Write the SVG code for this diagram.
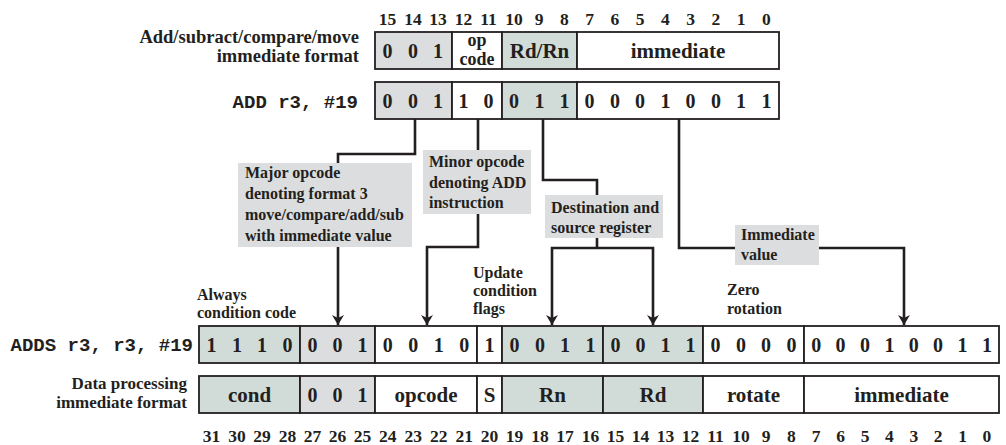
<svg xmlns="http://www.w3.org/2000/svg" width="1006" height="445" viewBox="0 0 1006 445">
<defs>
<style>
text{font-family:"Liberation Serif","Times New Roman",serif;font-weight:bold;fill:#231f20}
.lbl{font-size:18.5px;text-anchor:end}
.lbl2{font-size:17px;text-anchor:end}
.mono{font-family:"Liberation Mono","Courier New",monospace;font-size:19px;text-anchor:end}
.num{font-size:17.5px;text-anchor:middle}
.d{font-size:20px;text-anchor:middle}
.f{font-size:21px;text-anchor:middle}
.f2{font-size:18px;text-anchor:middle}
.note{font-size:16px}
.g{fill:#dcdddf;stroke:#231f20;stroke-width:1.8}
.t{fill:#d1dcd9;stroke:#231f20;stroke-width:1.8}
.w{fill:#ffffff;stroke:#231f20;stroke-width:1.8}
.cb{fill:#dcdddf;stroke:none}
.c{fill:none;stroke:#231f20;stroke-width:2.6}
</style>
<marker id="ah" viewBox="0 0 10 12" refX="10" refY="6" markerWidth="10" markerHeight="12" markerUnits="userSpaceOnUse" orient="auto">
<path d="M0,0 L10,6 L0,12 L3,6 Z" fill="#231f20"/>
</marker>
</defs>

<!-- top bit numbers -->
<g id="top-bits">
<text class="num" x="387.6" y="25">15</text>
<text class="num" x="412.9" y="25">14</text>
<text class="num" x="438.1" y="25">13</text>
<text class="num" x="463.4" y="25">12</text>
<text class="num" x="488.6" y="25">11</text>
<text class="num" x="513.9" y="25">10</text>
<text class="num" x="539.1" y="25">9</text>
<text class="num" x="564.4" y="25">8</text>
<text class="num" x="589.6" y="25">7</text>
<text class="num" x="614.9" y="25">6</text>
<text class="num" x="640.1" y="25">5</text>
<text class="num" x="665.4" y="25">4</text>
<text class="num" x="690.6" y="25">3</text>
<text class="num" x="715.9" y="25">2</text>
<text class="num" x="741.1" y="25">1</text>
<text class="num" x="766.4" y="25">0</text>
</g>

<!-- row 1: thumb format -->
<g id="thumb-format">
<text class="lbl" x="359" y="43">Add/subract/compare/move</text>
<text class="lbl" x="359" y="62">immediate format</text>
<rect class="g" x="375" y="32" width="77" height="37"/>
<rect class="w" x="452" y="32" width="50" height="37"/>
<rect class="t" x="502" y="32" width="75" height="37"/>
<rect class="w" x="577" y="32" width="202" height="37"/>
<text class="d" x="387.6" y="57.5">0</text>
<text class="d" x="412.9" y="57.5">0</text>
<text class="d" x="438.1" y="57.5">1</text>
<text class="f2" x="477" y="45.5">op</text>
<text class="f2" x="477" y="64.5">code</text>
<text class="f" x="539.5" y="58">Rd/Rn</text>
<text class="f" x="678" y="58">immediate</text>
</g>

<!-- row 2: ADD r3, #19 -->
<g id="thumb-add">
<text class="mono" x="358" y="108">ADD r3, #19</text>
<rect class="g" x="375" y="82" width="77" height="37"/>
<rect class="w" x="452" y="82" width="50" height="37"/>
<rect class="t" x="502" y="82" width="75" height="37"/>
<rect class="w" x="577" y="82" width="202" height="37"/>
<text class="d" x="387.6" y="107.5">0</text>
<text class="d" x="412.9" y="107.5">0</text>
<text class="d" x="438.1" y="107.5">1</text>
<text class="d" x="463.4" y="107.5">1</text>
<text class="d" x="488.6" y="107.5">0</text>
<text class="d" x="514.1" y="107.5">0</text>
<text class="d" x="539.4" y="107.5">1</text>
<text class="d" x="564.6" y="107.5">1</text>
<text class="d" x="589.6" y="107.5">0</text>
<text class="d" x="614.9" y="107.5">0</text>
<text class="d" x="640.1" y="107.5">0</text>
<text class="d" x="665.4" y="107.5">1</text>
<text class="d" x="690.6" y="107.5">0</text>
<text class="d" x="715.9" y="107.5">0</text>
<text class="d" x="741.1" y="107.5">1</text>
<text class="d" x="766.4" y="107.5">1</text>
</g>

<!-- connectors -->
<g id="connectors">
<path class="c" d="M415,119 V154 H338 V325" marker-end="url(#ah)"/>
<path class="c" d="M478,119 V247 H427 V325" marker-end="url(#ah)"/>
<path class="c" d="M543,119 V180 H597 V248"/>
<path class="c" d="M597,248 H552 V325" marker-end="url(#ah)"/>
<path class="c" d="M597,248 H653 V325" marker-end="url(#ah)"/>
<path class="c" d="M679,119 V248 H904 V325" marker-end="url(#ah)"/>
</g>

<!-- callout labels -->
<g id="note-major">
<rect class="cb" x="238" y="163" width="174" height="84"/>
<text class="note" x="245" y="178">Major opcode</text>
<text class="note" x="245" y="199">denoting format 3</text>
<text class="note" x="245" y="220">move/compare/add/sub</text>
<text class="note" x="245" y="241">with immediate value</text>
</g>
<g id="note-minor">
<rect class="cb" x="423" y="150" width="108" height="64"/>
<text class="note" x="429" y="167">Minor opcode</text>
<text class="note" x="429" y="188">denoting ADD</text>
<text class="note" x="429" y="208">instruction</text>
</g>
<g id="note-dest">
<rect class="cb" x="545" y="195" width="118" height="43"/>
<text class="note" x="551" y="213">Destination and</text>
<text class="note" x="551" y="233">source register</text>
</g>
<g id="note-imm">
<rect class="cb" x="735" y="225" width="84" height="40"/>
<text class="note" x="741" y="240">Immediate</text>
<text class="note" x="741" y="260">value</text>
</g>
<g id="note-always">
<text class="note" x="197" y="300">Always</text>
<text class="note" x="197" y="318">condition code</text>
</g>
<g id="note-update">
<text class="note" x="473" y="278">Update</text>
<text class="note" x="473" y="296">condition</text>
<text class="note" x="473" y="314">flags</text>
</g>
<g id="note-zero">
<text class="note" x="727" y="295">Zero</text>
<text class="note" x="727" y="314">rotation</text>
</g>

<!-- row 3: ADDS -->
<g id="arm-adds">
<text class="mono" x="193" y="351">ADDS r3, r3, #19</text>
<rect class="t" x="199" y="326" width="101" height="37"/>
<rect class="g" x="300" y="326" width="75" height="37"/>
<rect class="w" x="375" y="326" width="102" height="37"/>
<rect class="w" x="477" y="326" width="25" height="37"/>
<rect class="t" x="502" y="326" width="101" height="37"/>
<rect class="t" x="603" y="326" width="100" height="37"/>
<rect class="w" x="703" y="326" width="101" height="37"/>
<rect class="w" x="804" y="326" width="195" height="37"/>
<text class="d" x="211.6" y="351.5">1</text>
<text class="d" x="236.9" y="351.5">1</text>
<text class="d" x="262.1" y="351.5">1</text>
<text class="d" x="287.4" y="351.5">0</text>
<text class="d" x="312.5" y="351.5">0</text>
<text class="d" x="337.5" y="351.5">0</text>
<text class="d" x="362.5" y="351.5">1</text>
<text class="d" x="387.8" y="351.5">0</text>
<text class="d" x="413.3" y="351.5">0</text>
<text class="d" x="438.8" y="351.5">1</text>
<text class="d" x="464.3" y="351.5">0</text>
<text class="d" x="489.5" y="351.5">1</text>
<text class="d" x="514.6" y="351.5">0</text>
<text class="d" x="539.9" y="351.5">0</text>
<text class="d" x="565.1" y="351.5">1</text>
<text class="d" x="590.4" y="351.5">1</text>
<text class="d" x="615.5" y="351.5">0</text>
<text class="d" x="640.5" y="351.5">0</text>
<text class="d" x="665.5" y="351.5">1</text>
<text class="d" x="690.5" y="351.5">1</text>
<text class="d" x="715.6" y="351.5">0</text>
<text class="d" x="740.9" y="351.5">0</text>
<text class="d" x="766.1" y="351.5">0</text>
<text class="d" x="791.4" y="351.5">0</text>
<text class="d" x="816.2" y="351.5">0</text>
<text class="d" x="840.6" y="351.5">0</text>
<text class="d" x="865.0" y="351.5">0</text>
<text class="d" x="889.4" y="351.5">1</text>
<text class="d" x="913.8" y="351.5">0</text>
<text class="d" x="938.1" y="351.5">0</text>
<text class="d" x="962.5" y="351.5">1</text>
<text class="d" x="986.9" y="351.5">1</text>
</g>

<!-- row 4: data processing immediate format -->
<g id="arm-format">
<text class="lbl2" x="187" y="389">Data processing</text>
<text class="lbl2" x="187" y="408">immediate format</text>
<rect class="t" x="199" y="376" width="101" height="37"/>
<rect class="g" x="300" y="376" width="75" height="37"/>
<rect class="w" x="375" y="376" width="102" height="37"/>
<rect class="w" x="477" y="376" width="25" height="37"/>
<rect class="t" x="502" y="376" width="101" height="37"/>
<rect class="t" x="603" y="376" width="100" height="37"/>
<rect class="w" x="703" y="376" width="101" height="37"/>
<rect class="w" x="804" y="376" width="195" height="37"/>
<text class="f" x="249.5" y="401.5">cond</text>
<text class="d" x="312.5" y="401.5">0</text>
<text class="d" x="337.5" y="401.5">0</text>
<text class="d" x="362.5" y="401.5">1</text>
<text class="f" x="426" y="401.5">opcode</text>
<text class="f" x="489.5" y="401.5">S</text>
<text class="f" x="552.5" y="401.5">Rn</text>
<text class="f" x="653" y="401.5">Rd</text>
<text class="f" x="753.5" y="401.5">rotate</text>
<text class="f" x="901.5" y="401.5">immediate</text>
</g>

<!-- bottom bit numbers -->
<g id="bottom-bits">
<text class="num" x="211.6" y="442">31</text>
<text class="num" x="236.9" y="442">30</text>
<text class="num" x="262.1" y="442">29</text>
<text class="num" x="287.4" y="442">28</text>
<text class="num" x="312.5" y="442">27</text>
<text class="num" x="337.5" y="442">26</text>
<text class="num" x="362.5" y="442">25</text>
<text class="num" x="387.8" y="442">24</text>
<text class="num" x="413.3" y="442">23</text>
<text class="num" x="438.8" y="442">22</text>
<text class="num" x="464.3" y="442">21</text>
<text class="num" x="489.5" y="442">20</text>
<text class="num" x="514.6" y="442">19</text>
<text class="num" x="539.9" y="442">18</text>
<text class="num" x="565.1" y="442">17</text>
<text class="num" x="590.4" y="442">16</text>
<text class="num" x="615.5" y="442">15</text>
<text class="num" x="640.5" y="442">14</text>
<text class="num" x="665.5" y="442">13</text>
<text class="num" x="690.5" y="442">12</text>
<text class="num" x="715.6" y="442">11</text>
<text class="num" x="740.9" y="442">10</text>
<text class="num" x="766.1" y="442">9</text>
<text class="num" x="791.4" y="442">8</text>
<text class="num" x="816.2" y="442">7</text>
<text class="num" x="840.6" y="442">6</text>
<text class="num" x="865.0" y="442">5</text>
<text class="num" x="889.4" y="442">4</text>
<text class="num" x="913.8" y="442">3</text>
<text class="num" x="938.1" y="442">2</text>
<text class="num" x="962.5" y="442">1</text>
<text class="num" x="986.9" y="442">0</text>
</g>
</svg>
